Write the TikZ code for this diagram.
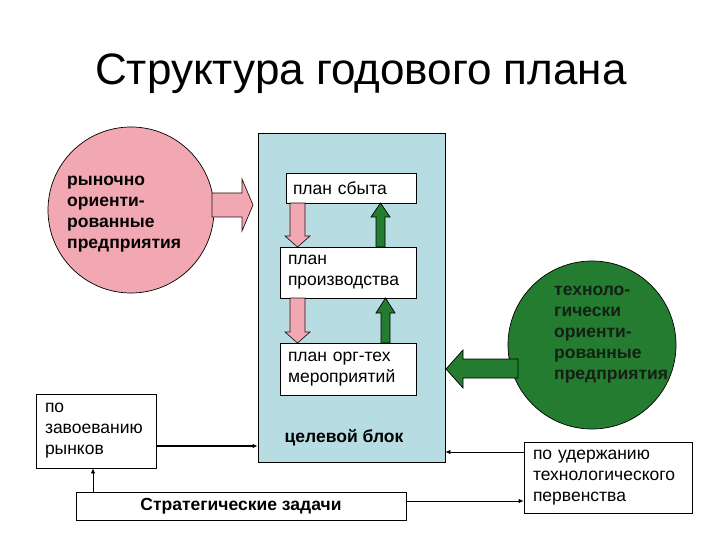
\documentclass[tikz,border=0pt]{standalone}
\usepackage{fontspec}
\setmainfont{Liberation Sans}
\usetikzlibrary{arrows.meta}
\definecolor{pinkf}{RGB}{242,168,178}
\definecolor{bluef}{RGB}{183,221,226}
\definecolor{greenf}{RGB}{36,124,48}
\definecolor{darkedge}{RGB}{40,20,20}
\definecolor{gtext}{RGB}{20,32,20}
\begin{document}
\begin{tikzpicture}[x=1pt,y=-1pt,
  txt/.style={font=\fontsize{17.5}{21}\selectfont},
  btxt/.style={font=\fontsize{17.5}{21}\selectfont\bfseries},
  bx/.style={draw=black, fill=white, line width=0.8pt, align=left, txt, inner ysep=0pt},
  conn/.style={-{Latex[length=5pt,width=4.5pt]}, line width=0.8pt},
  pinkarrow/.style={draw=darkedge, fill=pinkf, line width=0.7pt, line join=miter},
  greenarrow/.style={draw=black, fill=greenf, line width=0.7pt, line join=miter},
  bigcircle/.style={circle, draw=black, line width=0.7pt, inner sep=0pt}]
\useasboundingbox (0,0) rectangle (720,540);
\fill[white] (0,0) rectangle (720,540);

% title
\node[font=\fontsize{44}{52}\selectfont, anchor=base] (title) at (361,85) {Структура годового плана};

% pink circle
\node[bigcircle, fill=pinkf, minimum size=166pt] (pc) at (131,210) {};
\node[btxt, align=left, anchor=west, inner sep=0pt] (pct) at (67,214) {рыночно\\ориенти-\\рованные\\предприятия};

% main block
\node[draw=black, fill=bluef, line width=0.8pt, minimum width=187pt, minimum height=329pt, inner sep=0pt] (blk) at (351.5,297.5) {};
\node[btxt, inner sep=0pt] (goal) at (344,438) {целевой блок};

% pink block arrow into the block
\draw[pinkarrow] (212,193) -- (242,193) -- (242,179) -- (253,205) -- (242,231) -- (242,217) -- (212,217) -- cycle;

% plan boxes
\node[bx, minimum height=30pt, inner xsep=7pt, text width=116pt] (sbyt) at (351,188) {план сбыта};
\node[bx, minimum height=51pt, inner xsep=8pt, text width=120pt] (proizv) at (348,272.5) {план\\производства};
\node[bx, minimum height=52pt, inner xsep=8pt, text width=120pt] (orgteh) at (348,369) {план орг-тех\\мероприятий};

% pink down arrows
\draw[pinkarrow] (290,203) -- (305,203) -- (305,236) -- (310,236) -- (297.5,247) -- (285,236) -- (290,236) -- cycle;
\draw[pinkarrow] (290,298) -- (305,298) -- (305,332) -- (310,332) -- (297.5,343) -- (285,332) -- (290,332) -- cycle;

% green up arrows
\draw[greenarrow] (376,247) -- (385,247) -- (385,217) -- (390,217) -- (380.5,203) -- (371,217) -- (376,217) -- cycle;
\draw[greenarrow] (381,343) -- (390,343) -- (390,313) -- (395,313) -- (385.5,298) -- (376,313) -- (381,313) -- cycle;

% green circle
\node[bigcircle, fill=greenf, minimum size=168pt] (gc) at (592,345) {};
\node[btxt, text=gtext, align=left, anchor=west, inner sep=0pt] (gct) at (554,335) {техноло-\\гически\\ориенти-\\рованные\\предприятия};
\draw[greenarrow] (518,359) -- (463,359) -- (463,350) -- (446,369) -- (463,388) -- (463,378) -- (518,378) -- cycle;

% lower boxes
\node[bx, minimum height=74pt, inner xsep=9pt, text width=102pt] (zav) at (96,431) {по\\завоеванию\\рынков};
\node[bx, minimum height=71pt, inner xsep=9pt, text width=150pt] (ud) at (608,477.5) {по удержанию\\технологического\\первенства};
\node[draw=black, fill=white, line width=0.8pt, btxt, minimum width=330pt, minimum height=28pt, inner sep=0pt] (strat) at (241,506) {Стратегические задачи};

% connectors
\draw[conn, line width=2pt] ([yshift=-15pt]zav.east) -- ([yshift=-15pt]zav.east -| blk.west);
\draw[conn] ([xshift=-148pt]strat.north) -- ([xshift=-148pt]strat.north |- zav.south);
\draw[conn] ([yshift=25.5pt]ud.west) -- ([yshift=25.5pt]ud.west -| blk.east);
\draw[conn] ([yshift=5pt]strat.east) -- ([yshift=5pt]strat.east -| ud.west);
\end{tikzpicture}
\end{document}
